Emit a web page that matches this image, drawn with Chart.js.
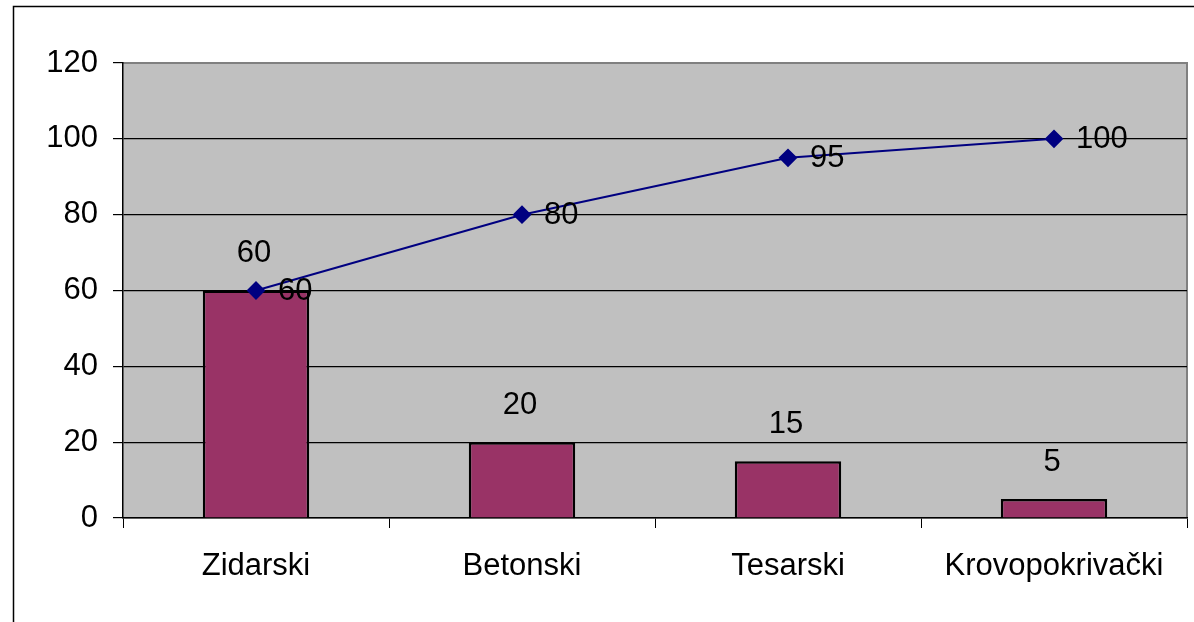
<!DOCTYPE html>
<html>
<head>
<meta charset="utf-8">
<script src="https://cdn.jsdelivr.net/npm/chart.js@4/dist/chart.umd.min.js"></script>
<style>
  html, body { margin: 0; padding: 0; background: #fff; }
  #wrap { width: 1194px; height: 622px; position: relative; }
</style>
</head>
<body>
<div id="wrap"><canvas id="c" width="1194" height="622"></canvas></div>
<script>
// Categories of work and their shares
const categories = ['Zidarski', 'Betonski', 'Tesarski', 'Krovopokrivački'];
const shareValues = [60, 20, 15, 5];
const cumulativeValues = [60, 80, 95, 100];
const yTicks = [0, 20, 40, 60, 80, 100, 120];

const FONT = { family: 'Liberation Sans, Arial, sans-serif', size: 31 };

// Grey plot background and frame around the whole chart
const backdrop = {
  id: 'backdrop',
  beforeDraw(chart) {
    const { ctx, chartArea: a } = chart;
    ctx.save();
    ctx.fillStyle = '#fff';
    ctx.fillRect(0, 0, chart.width, chart.height);
    ctx.strokeStyle = '#000';
    ctx.lineWidth = 1.5;
    ctx.strokeRect(13.5, 6.5, 1300, 800);
    ctx.fillStyle = '#C0C0C0';
    ctx.fillRect(a.left, a.top, a.right - a.left, a.bottom - a.top);
    ctx.strokeStyle = '#808080';
    ctx.lineWidth = 2;
    ctx.beginPath();
    ctx.moveTo(a.left, a.top);
    ctx.lineTo(a.right, a.top);
    ctx.lineTo(a.right, a.bottom);
    ctx.stroke();
    ctx.restore();
  }
};

// Value labels: above the bars, to the right of the line points
const valueLabels = {
  id: 'valueLabels',
  afterDatasetsDraw(chart) {
    const { ctx } = chart;
    ctx.save();
    ctx.font = `${FONT.size}px ${FONT.family}`;
    ctx.fillStyle = '#000';
    chart.data.datasets.forEach((ds, i) => {
      const meta = chart.getDatasetMeta(i);
      meta.data.forEach((el, j) => {
        const v = ds.data[j];
        if (ds.type === 'bar') {
          ctx.textAlign = 'center';
          ctx.textBaseline = 'middle';
          ctx.fillText(String(v), el.x - 2, el.y - 37);
        } else {
          ctx.textAlign = 'left';
          ctx.textBaseline = 'middle';
          ctx.fillText(String(v), el.x + 22, el.y + 1);
        }
      });
    });
    ctx.restore();
  }
};

new Chart(document.getElementById('c'), {
  data: {
    labels: categories,
    datasets: [
      {
        type: 'line',
        data: cumulativeValues,
        borderColor: '#000080',
        backgroundColor: '#000080',
        borderWidth: 2,
        pointStyle: 'rectRot',
        pointRadius: 8,
        pointHoverRadius: 8,
        tension: 0,
        clip: false,
        order: 0
      },
      {
        type: 'bar',
        data: shareValues,
        backgroundColor: '#993366',
        borderColor: '#000',
        borderWidth: 2.5,
        barPercentage: 0.4,
        categoryPercentage: 1,
        order: 1
      }
    ]
  },
  options: {
    responsive: false,
    animation: false,
    events: [],
    layout: { autoPadding: false, padding: { top: 63, right: 7, left: 0, bottom: 0 } },
    plugins: { legend: { display: false }, tooltip: { enabled: false } },
    scales: {
      x: {
        offset: true,
        grid: {
          offset: true,
          drawOnChartArea: false,
          drawTicks: true,
          tickLength: 10,
          tickColor: '#000'
        },
        border: { color: '#000', width: 1.5 },
        ticks: { color: '#000', font: FONT, padding: 20, maxRotation: 0 },
        afterFit(s) {
          s.height = 622 - 518;
          s.paddingLeft = 0;
          s.paddingRight = 0;
        }
      },
      y: {
        min: 0,
        max: 120,
        afterBuildTicks(s) { s.ticks = yTicks.map(v => ({ value: v })); },
        grid: {
          color: c => (c.tick && c.tick.value === 120 ? '#808080' : '#000'),
          lineWidth: 1.2,
          tickLength: 10,
          tickColor: '#000'
        },
        border: { color: '#000', width: 1.5 },
        ticks: { color: '#000', font: FONT, padding: 15 },
        afterFit(s) {
          s.width = 123;
          s.paddingTop = 0;
          s.paddingBottom = 0;
        }
      }
    }
  },
  plugins: [backdrop, valueLabels]
});
</script>
</body>
</html>
